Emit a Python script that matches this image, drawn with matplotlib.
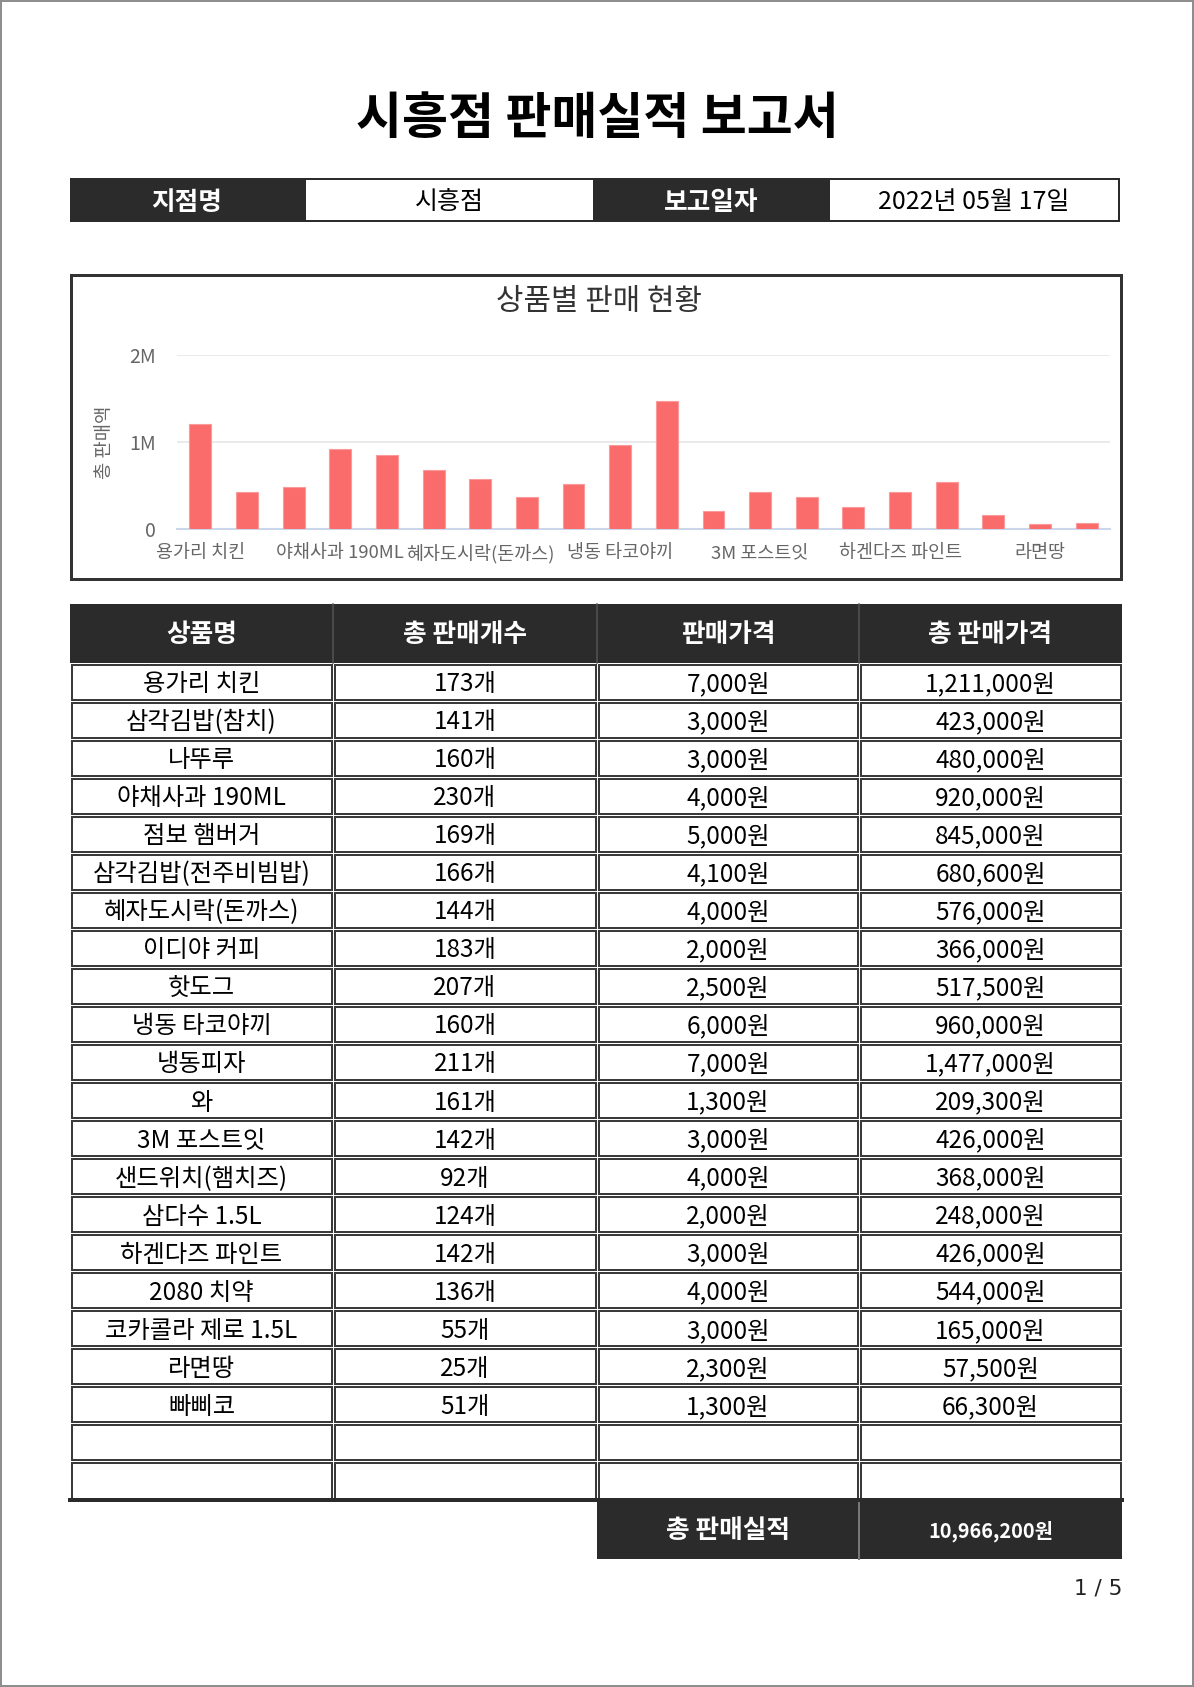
import matplotlib
matplotlib.use("Agg")
import matplotlib.pyplot as plt
from matplotlib.patches import Rectangle
from matplotlib.ticker import FuncFormatter

plt.rcParams['font.family'] = ['Noto Sans CJK KR', 'DejaVu Sans']

# ---------------- data ----------------
report_title = "시흥점 판매실적 보고서"
branch_name = "시흥점"
report_date = "2022년 05월 17일"
chart_title = "상품별 판매 현황"
y_axis_title = "총 판매액"

products = ["용가리 치킨", "삼각김밥(참치)", "나뚜루", "야채사과 190ML", "점보 햄버거",
            "삼각김밥(전주비빔밥)", "혜자도시락(돈까스)", "이디야 커피", "핫도그", "냉동 타코야끼",
            "냉동피자", "와", "3M 포스트잇", "샌드위치(햄치즈)", "삼다수 1.5L",
            "하겐다즈 파인트", "2080 치약", "코카콜라 제로 1.5L", "라면땅", "빠삐코"]
counts = [173, 141, 160, 230, 169, 166, 144, 183, 207, 160,
          211, 161, 142, 92, 124, 142, 136, 55, 25, 51]
prices = [7000, 3000, 3000, 4000, 5000, 4100, 4000, 2000, 2500, 6000,
          7000, 1300, 3000, 4000, 2000, 3000, 4000, 3000, 2300, 1300]
totals = [1211000, 423000, 480000, 920000, 845000, 680600, 576000, 366000, 517500, 960000,
          1477000, 209300, 426000, 368000, 248000, 426000, 544000, 165000, 57500, 66300]
grand_total = 10966200
header_labels = ["상품명", "총 판매개수", "판매가격", "총 판매가격"]
y_ticks = [0, 1000000, 2000000]
page_label = "1 / 5"

# ---------------- layout ----------------
W, H = 1194, 1687
DARK = "#2b2b2b"
fig = plt.figure(figsize=(W / 100, H / 100), dpi=100)
bg = fig.add_axes([0, 0, 1, 1])
bg.set_xlim(0, W)
bg.set_ylim(H, 0)
bg.axis('off')

PX = 0.72  # points per pixel
BOLD_FS = 18.5
BODY_FS = 17.5


def rect(x0, y0, x1, y1, fc='none', ec='none', lw=0, z=1):
    bg.add_patch(Rectangle((x0, y0), x1 - x0, y1 - y0, facecolor=fc, edgecolor=ec,
                           linewidth=lw * PX, zorder=z))


# page border
rect(1, 1, W - 1, H - 1, ec="#8e8e8e", lw=2, z=0)

# title
bg.text(597, 119, report_title, ha='center', va='center', fontsize=36,
        fontweight='bold', color='black')

# info bar
info_cells = [(70, 304, "지점명", True), (304, 594, branch_name, False),
              (594, 828, "보고일자", True), (828, 1119, report_date, False)]
for x0, x1, txt, dark in info_cells:
    if dark:
        rect(x0, 178, x1, 222, fc=DARK, z=2)
        bg.text((x0 + x1) / 2, 202, txt, ha='center', va='center', fontsize=BOLD_FS,
                fontweight='bold', color='white', zorder=3)
    else:
        rect(x0 + 1, 179, x1, 221, fc='white', ec=DARK, lw=2, z=2)
        bg.text((x0 + x1) / 2, 202, txt, ha='center', va='center', fontsize=BODY_FS + 0.5,
                color='black', zorder=3)

# chart box
rect(71, 275, 1121, 579, fc='white', ec="#333333", lw=3, z=1)

# table
col_x = [70, 333, 597, 859, 1122]
head_top, head_bot = 604, 663
row_h = (1500 - 663) / 22
rect(col_x[0], head_top, col_x[-1], head_bot, fc=DARK, z=2)
for i, lab in enumerate(header_labels):
    bg.text((col_x[i] + col_x[i + 1]) / 2, (head_top + head_bot) / 2 + 1, lab,
            ha='center', va='center', fontsize=BOLD_FS, fontweight='bold', color='white',
            zorder=3)
for xx in col_x[1:-1]:
    bg.plot([xx, xx], [head_top, head_bot], color="#555555", lw=1.5 * PX, zorder=3)

rows = []
for n, c, p, t in zip(products, counts, prices, totals):
    rows.append([n, f"{c}개", f"{p:,}원", f"{t:,}원"])
rows += [["", "", "", ""], ["", "", "", ""]]

for r, row in enumerate(rows):
    y0 = head_bot + r * row_h
    y1 = y0 + row_h
    for c in range(4):
        rect(col_x[c] + 1.5, y0 + 1.5, col_x[c + 1] - 1.5, y1 - 1.5, fc='white',
             ec="#3a3a3a", lw=2, z=2)
        if row[c]:
            bg.text((col_x[c] + col_x[c + 1]) / 2, (y0 + y1) / 2 + 2, row[c],
                    ha='center', va='center', fontsize=BODY_FS, color='black', zorder=3)
# thick bottom
bg.plot([col_x[0], col_x[-1]], [1500, 1500], color=DARK, lw=4 * PX, zorder=4)

# total row
rect(col_x[2], 1500, col_x[-1], 1559, fc=DARK, z=2)
bg.plot([col_x[3], col_x[3]], [1500, 1559], color="#777777", lw=2 * PX, zorder=3)
bg.text((col_x[2] + col_x[3]) / 2, 1531, "총 판매실적", ha='center', va='center',
        fontsize=BOLD_FS, fontweight='bold', color='white', zorder=3)
bg.text((col_x[3] + col_x[4]) / 2, 1531, f"{grand_total:,}원", ha='center', va='center',
        fontsize=14.3, fontweight='bold', color='white', zorder=3)

bg.text(1122, 1589, page_label, ha='right', va='center', fontsize=15.5, color='#222222',
        family=['DejaVu Sans'])

# ---------------- bar chart ----------------
cx0, cx1, cy_top, cy_bot = 177, 1110, 355, 529
ax = fig.add_axes([cx0 / W, 1 - cy_bot / H, (cx1 - cx0) / W, (cy_bot - cy_top) / H])
ax.set_facecolor('none')
xs = list(range(len(products)))
ax.bar(xs, totals, width=0.47, color="#fa6b6b", edgecolor="#fb9a9a", linewidth=0.8, zorder=3)
ax.set_xlim(-0.5, len(products) - 0.5)
ax.set_ylim(0, 2000000)
ax.set_yticks(y_ticks)
ax.yaxis.set_major_formatter(FuncFormatter(lambda v, p: "0" if v == 0 else f"{int(v / 1e6)}M"))
ax.grid(axis='y', color="#e6e6e6", linewidth=1.2, zorder=0)
ax.set_axisbelow(True)
for s in ['top', 'right', 'left']:
    ax.spines[s].set_visible(False)
ax.spines['bottom'].set_color("#ccd6eb")
ax.spines['bottom'].set_linewidth(1.5)
ax.tick_params(axis='y', length=0, labelsize=14, labelcolor="#666666", pad=15)
ax.tick_params(axis='x', length=0, labelsize=13.3, labelcolor="#666666", pad=11)
label_idx = xs[::3]
ax.set_xticks(label_idx)
ax.set_xticklabels([products[i] for i in label_idx])
ax.set_ylabel(y_axis_title, fontsize=13.5, color="#666666")
ax.yaxis.set_label_coords(-0.066, 0.5)
fig.text(599 / W, 1 - 302 / H, chart_title, ha='center', va='center', fontsize=21.5,
         color="#333333")

fig.savefig("out.png", dpi=100)
